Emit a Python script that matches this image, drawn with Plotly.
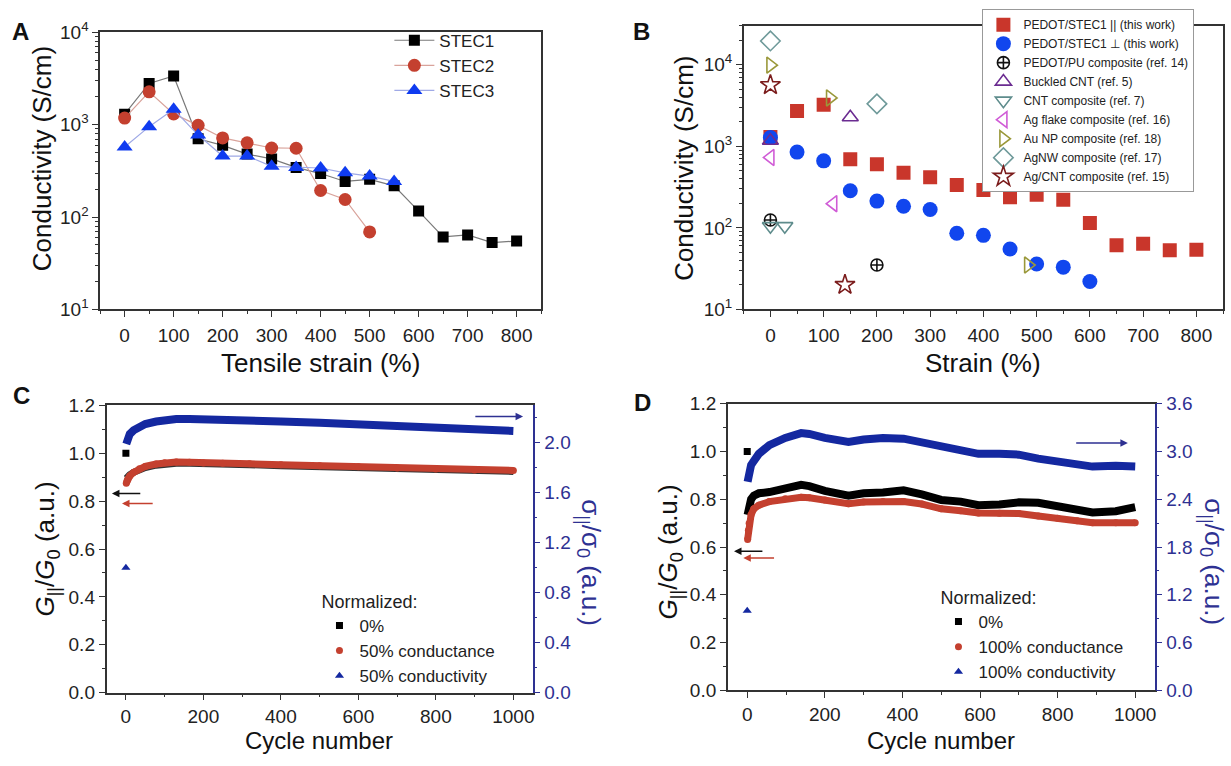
import plotly.graph_objects as go

# ---------------- data ----------------
# Panel A
strain_a = [0, 50, 100, 150, 200, 250, 300, 350, 400, 450, 500, 550, 600, 650, 700, 750, 800]
stec1 = [1300, 2800, 3370, 705, 598, 481, 426, 345, 296, 243, 256, 218, 116, 61, 64, 53, 55]
stec2 = [1180, 2270, 1310, 984, 719, 637, 560, 556, 194, 155, 69]
stec3 = [574, 953, 1470, 773, 458, 458, 354, 345, 340, 301, 278, 243]

# Panel B
strain_par = [0, 50, 100, 150, 200, 250, 300, 350, 400, 450, 500, 550, 600, 650, 700, 750, 800]
sigma_par = [1300, 2720, 3240, 695, 601, 474, 418, 336, 292, 237, 255, 221, 115, 61, 64, 53, 54]
strain_perp = [0, 50, 100, 150, 200, 250, 300, 350, 400, 450, 500, 550, 600]
sigma_perp = [1280, 850, 664, 285, 213, 184, 168, 86, 81, 55, 36, 33, 22]
pu_x, pu_y = [0, 200], [125, 35]
buckled_x, buckled_y = [0, 150], [1170, 2270]
cntc_x, cntc_y = [0, 27], [105, 105]
agflake_x, agflake_y = [0, 118], [730, 198]
aunp_x, aunp_y = [0, 112, 484], [9900, 3920, 35]
agnw_x, agnw_y = [0, 200], [19600, 3320]
agcnt_x, agcnt_y = [0, 140], [5640, 20]

# Panel C
c_cycles = [1, 3, 5, 10, 20, 35, 50, 78, 100, 130, 164, 200, 250, 319, 400, 500, 600, 700, 800, 900, 1000]
c_sigma = [1.99, 2.02, 2.04, 2.07, 2.10, 2.13, 2.15, 2.17, 2.18, 2.19, 2.19, 2.185, 2.185, 2.18, 2.17,
           2.16, 2.145, 2.13, 2.12, 2.105, 2.095]
c_cond = [0.875, 0.885, 0.893, 0.905, 0.92, 0.935, 0.945, 0.955, 0.96, 0.963, 0.962, 0.959, 0.958, 0.956,
          0.952, 0.948, 0.943, 0.938, 0.934, 0.93, 0.928]
c_zero = [0.895, 0.90, 0.905, 0.91, 0.92, 0.93, 0.94, 0.95, 0.955, 0.958, 0.958, 0.955, 0.954, 0.952,
          0.948, 0.944, 0.939, 0.934, 0.93, 0.926, 0.924]
c_init_cycle, c_init_G, c_init_sigma = [0], [1.0], [1.0]

# Panel D
d_cycles = [1, 3, 5, 10, 17, 30, 57, 98, 139, 160, 200, 261, 300, 350, 403, 450, 500, 550, 596, 650,
            700, 750, 800, 850, 890, 950, 1000]
d_sigma = [2.62, 2.68, 2.75, 2.83, 2.88, 2.97, 3.08, 3.17, 3.23, 3.22, 3.17, 3.12, 3.15, 3.17, 3.16,
           3.11, 3.06, 3.02, 2.97, 2.97, 2.96, 2.91, 2.87, 2.84, 2.81, 2.82, 2.81]
d_zero = [0.735, 0.76, 0.78, 0.80, 0.815, 0.825, 0.83, 0.845, 0.86, 0.855, 0.835, 0.815, 0.825, 0.828,
          0.837, 0.82, 0.797, 0.79, 0.775, 0.778, 0.787, 0.785, 0.768, 0.757, 0.745, 0.75, 0.767]
d_cond = [0.632, 0.67, 0.70, 0.735, 0.76, 0.775, 0.79, 0.802, 0.808, 0.806, 0.797, 0.781, 0.788, 0.79,
          0.79, 0.78, 0.76, 0.752, 0.742, 0.741, 0.74, 0.73, 0.72, 0.71, 0.702, 0.702, 0.702]
d_init_cycle, d_init_G, d_init_sigma = [0], [1.0], [1.0]

# ---------------- helpers ----------------
W, H = 1231, 766
def px(x): return x / W
def py(y): return 1 - y / H

FONT = "Liberation Sans, Arial, Helvetica, sans-serif"
NAVY = "#2E3192"
RED = "#C4402F"
BLUE_A = "#0F3BF0"
BAND_BLUE = "#1428A0"
AX = "#333333"

fig = go.Figure()

# ---------------- Panel A ----------------
fig.add_trace(go.Scatter(x=strain_a, y=stec1, mode="lines+markers", name="STEC1",
                         line=dict(color="#7a7a7a", width=1.2),
                         marker=dict(symbol="square", size=11, color="black"),
                         xaxis="x", yaxis="y", legend="legend"))
fig.add_trace(go.Scatter(x=strain_a[:len(stec2)], y=stec2, mode="lines+markers", name="STEC2",
                         line=dict(color="#d9a39b", width=1.2),
                         marker=dict(symbol="circle", size=13, color=RED),
                         xaxis="x", yaxis="y", legend="legend"))
fig.add_trace(go.Scatter(x=strain_a[:len(stec3)], y=stec3, mode="lines+markers", name="STEC3",
                         line=dict(color="#9fa9e6", width=1.2),
                         marker=dict(symbol="triangle-up", size=14, color=BLUE_A),
                         xaxis="x", yaxis="y", legend="legend"))

# ---------------- Panel B ----------------
def bopen(x, y, name, symbol, color, size=14):
    fig.add_trace(go.Scatter(x=x, y=y, mode="markers", name=name,
                             marker=dict(symbol=symbol, size=size, color=color,
                                         line=dict(color=color, width=1.6)),
                             xaxis="x2", yaxis="y2", legend="legend2"))

fig.add_trace(go.Scatter(x=strain_par, y=sigma_par, mode="markers", name="PEDOT/STEC1 || (this work)",
                         marker=dict(symbol="square", size=14, color="#C9362B"),
                         xaxis="x2", yaxis="y2", legend="legend2"))
fig.add_trace(go.Scatter(x=strain_perp, y=sigma_perp, mode="markers", name="PEDOT/STEC1 \u22a5 (this work)",
                         marker=dict(symbol="circle", size=15, color="#1146EE"),
                         xaxis="x2", yaxis="y2", legend="legend2"))
bopen(pu_x, pu_y, "PEDOT/PU composite (ref. 14)", "circle-cross-open", "#111111", 12)
bopen(buckled_x, buckled_y, "Buckled CNT (ref. 5)", "triangle-up-open", "#6B2C91")
bopen(cntc_x, cntc_y, "CNT composite (ref. 7)", "triangle-down-open", "#5E8C8C")
bopen(agflake_x, agflake_y, "Ag flake composite (ref. 16)", "triangle-left-open", "#D05CD6")
bopen(aunp_x, aunp_y, "Au NP composite (ref. 18)", "triangle-right-open", "#9A983A")
bopen(agnw_x, agnw_y, "AgNW composite (ref. 17)", "diamond-open", "#6F9A9A", 15)
bopen(agcnt_x, agcnt_y, "Ag/CNT composite (ref. 15)", "star-open", "#7B1C1C", 15)

# ---------------- Panel C ----------------
def band(x, y, color, xa, ya, width=8):
    fig.add_trace(go.Scatter(x=x, y=y, mode="lines", line=dict(color=color, width=width),
                             showlegend=False, xaxis=xa, yaxis=ya))

band(c_cycles, c_zero, "#333333", "x3", "y3", 7)
band(c_cycles, c_cond, RED, "x3", "y3", 7)
band(c_cycles, c_sigma, BAND_BLUE, "x3", "y4", 8)
fig.add_trace(go.Scatter(x=c_init_cycle, y=c_init_G, mode="markers", name="0%",
                         marker=dict(symbol="square", size=7, color="black"),
                         xaxis="x3", yaxis="y3", legend="legend3"))
fig.add_trace(go.Scatter(x=c_cycles, y=c_cond, mode="markers", name="50% conductance",
                         marker=dict(symbol="circle", size=7, color=RED),
                         xaxis="x3", yaxis="y3", legend="legend3"))
fig.add_trace(go.Scatter(x=c_init_cycle, y=c_init_sigma, mode="markers", name="50% conductivity",
                         marker=dict(symbol="triangle-up", size=8, color=BAND_BLUE),
                         xaxis="x3", yaxis="y4", legend="legend3"))

# ---------------- Panel D ----------------
band(d_cycles, d_sigma, BAND_BLUE, "x4", "y6", 8)
band(d_cycles, d_zero, "#000000", "x4", "y5", 8)
band(d_cycles, d_cond, RED, "x4", "y5", 7)
fig.add_trace(go.Scatter(x=d_init_cycle, y=d_init_G, mode="markers", name="0%",
                         marker=dict(symbol="square", size=7, color="black"),
                         xaxis="x4", yaxis="y5", legend="legend4"))
fig.add_trace(go.Scatter(x=d_cycles, y=d_cond, mode="markers", name="100% conductance",
                         marker=dict(symbol="circle", size=7, color=RED),
                         xaxis="x4", yaxis="y5", legend="legend4"))
fig.add_trace(go.Scatter(x=d_init_cycle, y=d_init_sigma, mode="markers", name="100% conductivity",
                         marker=dict(symbol="triangle-up", size=8, color=BAND_BLUE),
                         xaxis="x4", yaxis="y6", legend="legend4"))

# ---------------- axes ----------------
def ax(**kw):
    d = dict(showline=True, linecolor=AX, linewidth=1.5, ticks="outside", ticklen=6, tickwidth=1.3,
             tickcolor=AX, showgrid=False, zeroline=False,
             tickfont=dict(family=FONT, size=19, color="#222"))
    d.update(kw)
    return d

log_minor = [m * 10 ** e for e in range(1, 5) for m in range(2, 10)]
log_vals = [10, 100, 1000, 10000]
log_text = ["10<sup>1</sup>", "10<sup>2</sup>", "10<sup>3</sup>", "10<sup>4</sup>"]

fig.update_layout(
    xaxis=ax(domain=[px(100.3), px(542)], anchor="y", range=[-50, 850], tick0=0, dtick=100, mirror=True,
             ticklabelstandoff=2,
             minor=dict(ticks="outside", dtick=50, ticklen=3, tickcolor=AX)),
    yaxis=ax(domain=[py(306), py(20)], anchor="x", type="log", range=[1, 4], tickmode="array",
             tickvals=log_vals, ticktext=log_text, mirror=True,
             minor=dict(ticks="outside", tickmode="array", tickvals=log_minor, ticklen=3, tickcolor=AX)),
    xaxis2=ax(domain=[px(745), px(1225)], anchor="y2", range=[-50, 850], tick0=0, dtick=100, mirror=True,
              ticklabelstandoff=2,
              minor=dict(ticks="outside", dtick=50, ticklen=3, tickcolor=AX)),
    yaxis2=ax(domain=[py(306), py(13.3)], anchor="x2", type="log", range=[1, 4.477], tickmode="array",
              tickvals=log_vals, ticktext=log_text, mirror=True,
              minor=dict(ticks="outside", tickmode="array", tickvals=log_minor, ticklen=3, tickcolor=AX)),
    xaxis3=ax(domain=[px(106.7), px(533.6)], anchor="y3", range=[-50, 1050], tick0=0, dtick=200, mirror=True,
              ticklabelstandoff=0,
              minor=dict(ticks="outside", dtick=100, ticklen=3, tickcolor=AX)),
    yaxis3=ax(domain=[py(701.7), py(405)], anchor="x3", range=[0, 1.2], tick0=0, dtick=0.2, tickformat=".1f",
              minor=dict(ticks="outside", dtick=0.1, ticklen=3, tickcolor=AX)),
    yaxis4=ax(overlaying="y3", side="right", anchor="x3", range=[0, 2.3], tick0=0, dtick=0.4, tickformat=".1f",
              linecolor=NAVY, tickcolor=NAVY, tickfont=dict(family=FONT, size=19, color=NAVY),
              minor=dict(ticks="outside", dtick=0.2, ticklen=3, tickcolor=NAVY)),
    xaxis4=ax(domain=[px(729), px(1156.5)], anchor="y5", range=[-50, 1050], tick0=0, dtick=200, mirror=True,
              ticklabelstandoff=0,
              minor=dict(ticks="outside", dtick=100, ticklen=3, tickcolor=AX)),
    yaxis5=ax(domain=[py(699.3), py(403.3)], anchor="x4", range=[0, 1.2], tick0=0, dtick=0.2, tickformat=".1f",
              minor=dict(ticks="outside", dtick=0.1, ticklen=3, tickcolor=AX)),
    yaxis6=ax(overlaying="y5", side="right", anchor="x4", range=[0, 3.6], tick0=0, dtick=0.6, tickformat=".1f",
              linecolor=NAVY, tickcolor=NAVY, tickfont=dict(family=FONT, size=19, color=NAVY),
              minor=dict(ticks="outside", dtick=0.3, ticklen=3, tickcolor=NAVY)),
)

# ---------------- legends ----------------
fig.update_layout(
    legend=dict(x=px(390), y=py(10), xanchor="left", yanchor="top", bgcolor="rgba(0,0,0,0)",
                itemwidth=40, font=dict(family=FONT, size=17, color="#222"), tracegroupgap=0),
    legend2=dict(x=px(984), y=py(-4), xanchor="left", yanchor="top", bgcolor="white",
                 bordercolor="#999", borderwidth=1, font=dict(family=FONT, size=12, color="#222"),
                 tracegroupgap=0),
    legend3=dict(x=px(320), y=py(590), xanchor="left", yanchor="top", bgcolor="rgba(0,0,0,0)",
                 title=dict(text="Normalized:", font=dict(family=FONT, size=18, color="#222")),
                 font=dict(family=FONT, size=17, color="#222"), tracegroupgap=0),
    legend4=dict(x=px(940), y=py(586), xanchor="left", yanchor="top", bgcolor="rgba(0,0,0,0)",
                 title=dict(text="Normalized:", font=dict(family=FONT, size=18, color="#222")),
                 font=dict(family=FONT, size=17, color="#222"), tracegroupgap=0),
)

# ---------------- annotations ----------------
ann = []
def txt(x, y, s, size=26, angle=0, color="#111", bold=False, yanchor="middle"):
    ann.append(dict(x=px(x), y=py(y), xref="paper", yref="paper", text=("<b>%s</b>" % s) if bold else s,
                    showarrow=False, textangle=angle, xanchor="center", yanchor=yanchor,
                    font=dict(family=FONT, size=size, color=color)))

txt(21, 19, "A", 24, bold=True)
txt(643, 19, "B", 24, bold=True)
txt(22, 395, "C", 24, bold=True)
txt(644, 402, "D", 24, bold=True)

txt(42, 150, "Conductivity (S/cm)", 26, -90)
txt(321, 361, "Tensile strain (%)", 26)
txt(685, 160, "Conductivity (S/cm)", 26, -90)
txt(985, 361, "Strain (%)", 26)

GT = "<i>G</i><sub>||</sub>/<i>G</i><sub>0</sub> (a.u.)"
ST = "\u03c3<sub>||</sub>/\u03c3<sub>0</sub> (a.u.)"
txt(47, 553, GT, 26, -90)
txt(320, 767, "Cycle number", 24, yanchor="bottom")
txt(591, 567, ST, 26, 90, NAVY)
txt(671, 556, GT, 26, -90)
txt(943, 767, "Cycle number", 24, yanchor="bottom")
txt(1215, 566, ST, 26, 90, NAVY)

def arrow(xh, xt, y, xr, yr, color):
    ann.append(dict(x=xh, y=y, ax=xt, ay=y, xref=xr, yref=yr, axref=xr, ayref=yr, text="",
                    showarrow=True, arrowhead=2, arrowsize=1, arrowwidth=1.5, arrowcolor=color))

arrow(-36, 41, 0.832, "x3", "y3", "#111")
arrow(-10, 73, 0.79, "x3", "y3", RED)
arrow(1025, 898, 2.21, "x3", "y4", NAVY)
arrow(-34, 43, 0.582, "x4", "y5", "#111")
arrow(-10, 73, 0.554, "x4", "y5", RED)
arrow(981, 844, 3.106, "x4", "y6", NAVY)

fig.update_layout(annotations=ann, width=W, height=H, margin=dict(l=0, r=0, t=0, b=0),
                  paper_bgcolor="white", plot_bgcolor="white", font=dict(family=FONT))

fig.write_html("out.html", config={"displayModeBar": False})
